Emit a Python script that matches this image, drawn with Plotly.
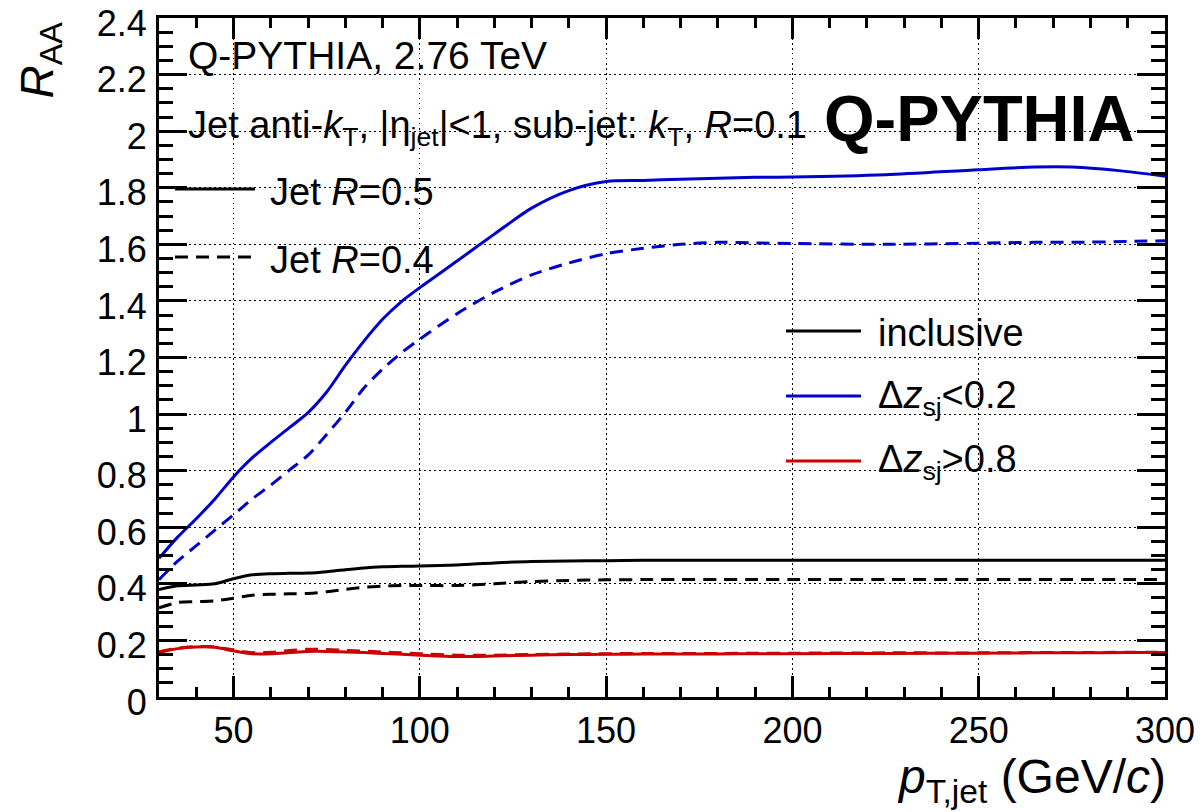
import plotly.graph_objects as go

# ---------------- data ----------------
pt = [30, 35, 40, 45, 50, 55, 60, 65, 70, 75, 80, 85, 90, 95, 100, 110, 120, 130,
      140, 150, 160, 170, 180, 190, 200, 225, 250, 265, 275, 290, 300]

dz_lo_R05 = [0.49, 0.565, 0.63, 0.70, 0.778, 0.845, 0.90, 0.952, 1.005, 1.078, 1.172,
             1.258, 1.335, 1.397, 1.447, 1.541, 1.636, 1.728, 1.79, 1.822, 1.826, 1.83,
             1.834, 1.837, 1.838, 1.846, 1.864, 1.873, 1.873, 1.857, 1.841]
dz_lo_R04 = [0.415, 0.48, 0.535, 0.59, 0.644, 0.70, 0.749, 0.802, 0.855, 0.928, 1.006,
             1.092, 1.159, 1.216, 1.265, 1.355, 1.431, 1.492, 1.534, 1.567, 1.586, 1.60,
             1.607, 1.605, 1.603, 1.60, 1.604, 1.607, 1.607, 1.61, 1.613]
incl_R05 = [0.38, 0.393, 0.396, 0.40, 0.418, 0.432, 0.436, 0.437, 0.438, 0.443, 0.45,
            0.456, 0.46, 0.462, 0.463, 0.467, 0.474, 0.479, 0.481, 0.482, 0.483, 0.483,
            0.483, 0.483, 0.483, 0.483, 0.483, 0.483, 0.483, 0.483, 0.483]
incl_R04 = [0.315, 0.334, 0.337, 0.34, 0.349, 0.36, 0.363, 0.365, 0.366, 0.372, 0.38,
            0.388, 0.392, 0.394, 0.394, 0.394, 0.40, 0.408, 0.412, 0.414, 0.415, 0.415,
            0.415, 0.415, 0.415, 0.415, 0.415, 0.415, 0.415, 0.415, 0.415]
dz_hi_R05 = [0.157, 0.171, 0.177, 0.176, 0.163, 0.153, 0.153, 0.157, 0.161, 0.161, 0.159,
             0.157, 0.154, 0.151, 0.148, 0.143, 0.145, 0.148, 0.15, 0.151, 0.152, 0.152,
             0.152, 0.153, 0.153, 0.154, 0.155, 0.156, 0.156, 0.157, 0.157]
dz_hi_R04 = [0.16, 0.172, 0.178, 0.177, 0.166, 0.157, 0.158, 0.164, 0.169, 0.168, 0.165,
             0.162, 0.159, 0.156, 0.153, 0.148, 0.148, 0.15, 0.152, 0.153, 0.154, 0.154,
             0.154, 0.155, 0.155, 0.156, 0.156, 0.157, 0.157, 0.158, 0.158]

x_ticks = [50, 100, 150, 200, 250, 300]
y_ticks = [0, 0.2, 0.4, 0.6, 0.8, 1, 1.2, 1.4, 1.6, 1.8, 2, 2.2, 2.4]
y_ticklabels = ["0", "0.2", "0.4", "0.6", "0.8", "1", "1.2", "1.4", "1.6", "1.8", "2", "2.2", "2.4"]

BLUE = "#0000cc"
RED = "#cc0000"
BLACK = "#000000"
DASH = "13px,8px"
FONT = "Liberation Sans, Arial, Helvetica, sans-serif"

series = [
    (incl_R05, BLACK, "solid"), (incl_R04, BLACK, DASH),
    (dz_lo_R05, BLUE, "solid"), (dz_lo_R04, BLUE, DASH),
    (dz_hi_R05, RED, "solid"), (dz_hi_R04, RED, DASH),
]

fig = go.Figure()
for ys, col, dash in series:
    fig.add_trace(go.Scatter(x=pt, y=ys, mode="lines", showlegend=False,
                             line=dict(color=col, width=3, dash=dash, shape="spline", smoothing=0.8)))
# invisible trace so the mirrored (top/right) tick axes are drawn
fig.add_trace(go.Scatter(x=[None], y=[None], xaxis="x2", yaxis="y2", showlegend=False, hoverinfo="skip"))

# ---------------- layout ----------------
W, H = 1203, 812
L, R, T, B = 159, 38, 18, 115
pw, ph = W - L - R, H - T - B
XR = [30, 300]
YR = [0, 2.4000001]

def px(xp):
    return (xp - L) / pw

def py(yp):
    return (H - B - yp) / ph

tickfont = dict(family=FONT, size=36, color="black")
common = dict(showline=True, linecolor="black", linewidth=3, ticks="inside", tickcolor="black",
              tickwidth=2.5, zeroline=False, ticklabeloverflow="allow", automargin=False)

fig.update_layout(
    template="none",
    width=W, height=H, margin=dict(l=L, r=R, t=T, b=B, autoexpand=False),
    paper_bgcolor="white", plot_bgcolor="white",
    xaxis=dict(range=XR, tickvals=x_ticks, ticklen=21, tickfont=tickfont,
               showgrid=True, gridcolor="black", gridwidth=1, griddash="1.5px,3.5px",
               minor=dict(dtick=10, ticklen=10, tickwidth=2.5, tickcolor="black", ticks="inside", showgrid=False),
               **common),
    yaxis=dict(range=YR, tickvals=y_ticks, ticktext=y_ticklabels, ticklen=28, tickfont=tickfont,
               ticklabelshift=5, ticklabelstandoff=2,
               showgrid=True, gridcolor="black", gridwidth=1, griddash="1.5px,3.5px",
               minor=dict(dtick=0.05, ticklen=14, tickwidth=2.5, tickcolor="black", ticks="inside", showgrid=False),
               **common),
    xaxis2=dict(range=XR, overlaying="x", side="top", anchor="y2", tickvals=x_ticks, ticklen=21,
                showticklabels=False, showgrid=False,
                minor=dict(dtick=10, ticklen=10, tickwidth=2.5, tickcolor="black", ticks="inside", showgrid=False),
                **common),
    yaxis2=dict(range=YR, overlaying="y", side="right", anchor="x2", tickvals=y_ticks, ticklen=28,
                showticklabels=False, showgrid=False,
                minor=dict(dtick=0.05, ticklen=14, tickwidth=2.5, tickcolor="black", ticks="inside", showgrid=False),
                **common),
)

ann = []
def text(xp, yp, s, size=38, xanchor="left", yanchor="middle", angle=0):
    ann.append(dict(xref="paper", yref="paper", x=px(xp), y=py(yp), text=s, showarrow=False,
                    xanchor=xanchor, yanchor=yanchor, textangle=angle,
                    font=dict(family=FONT, size=size, color="black")))

text(186, 55, "Q-PYTHIA, 2.76 TeV", size=39)
text(186, 128, "Jet anti-<i>k</i><sub>T</sub>, |η<sub>jet</sub>|&lt;1, sub-jet: <i>k</i><sub>T</sub>, <i>R</i>=0.1")
ann.append(dict(xref="paper", yref="paper", x=px(1137), y=py(118), text="<b>Q-PYTHIA</b>", showarrow=False,
                xanchor="right", yanchor="middle", font=dict(family=FONT, size=65, color="black")))

# legend keys
shapes = []
def key(x0, x1, yp, col, dash):
    shapes.append(dict(type="line", xref="paper", yref="paper", x0=px(x0), x1=px(x1), y0=py(yp), y1=py(yp),
                       line=dict(color=col, width=3, dash=dash)))

key(175, 255, 189, BLACK, "solid")
key(175, 255, 257, BLACK, DASH)
text(268, 192, "Jet <i>R</i>=0.5")
text(268, 260, "Jet <i>R</i>=0.4")

key(786, 861, 331, BLACK, "solid")
key(786, 861, 396, BLUE, "solid")
key(786, 861, 461, RED, "solid")
text(876, 333, "inclusive")
text(876, 398, "Δ<i>z</i><sub>sj</sub>&lt;0.2")
text(876, 462, "Δ<i>z</i><sub>sj</sub>&gt;0.8")

# axis titles
text(1168, 780, "<i>p</i><sub>T,jet</sub> (GeV/<i>c</i>)", size=48, xanchor="right")
text(40, 20, "<i>R</i><sub>AA</sub>", size=46, xanchor="center", yanchor="top", angle=-90)

fig.update_layout(annotations=ann, shapes=shapes)
fig.write_html("out.html")
